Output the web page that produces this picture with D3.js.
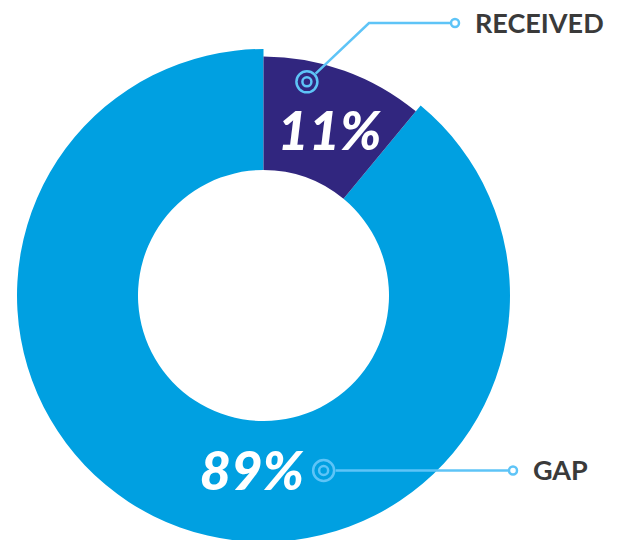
<!DOCTYPE html>
<html>
<head>
<meta charset="utf-8">
<script src="https://cdn.jsdelivr.net/npm/d3@7"></script>
<style>
  html, body { margin: 0; padding: 0; background: #fff; }
  svg { display: block; }
</style>
</head>
<body>
<div id="chart"></div>
<script>
// data
const categories = ["RECEIVED", "GAP"];
const values = [11, 89];
const colors = ["#31267f", "#00a0e1"];

const width = 619, height = 540;
const cx = 263.5, cy = 295.5;
const innerR = 125.5;
const outerR = { RECEIVED: 239, GAP: 246.5 };
const lineColor = "#5ec4f7";

const svg = d3.select("#chart").append("svg")
  .attr("width", width)
  .attr("height", height);

const g = svg.append("g").attr("transform", `translate(${cx},${cy})`);

const pie = d3.pie().sort(null).value(d => d.value);
const slices = pie(categories.map((c, i) => ({ name: c, value: values[i], color: colors[i] })));

const arc = d3.arc()
  .innerRadius(innerR)
  .outerRadius(d => outerR[d.data.name]);

// GAP first so the received slice sits on top
g.selectAll("path.slice")
  .data(slices.slice().reverse())
  .join("path")
  .attr("class", "slice")
  .attr("d", arc)
  .attr("fill", d => d.data.color);

// polar helper, angle in degrees clockwise from 12 o'clock
function polar(angle, r) {
  const a = angle / 180 * Math.PI;
  return [r * Math.sin(a), -r * Math.cos(a)];
}
const deg = a => a * 180 / Math.PI;

// label layout per slice: where the % text and the callout ring sit
const layout = {
  RECEIVED: { text: { t: 0.55, r: 178 }, ring: { t: 0.29, r: 218 }, elbow: [369 - cx, 23 - cy], end: [455 - cx, 23 - cy] },
  GAP: { text: { t: 0.45, r: 176 }, ring: { t: 0.379, r: 185 }, elbow: null, end: [513 - cx, 0] }
};

slices.forEach(d => {
  const L = layout[d.data.name];
  const a0 = deg(d.startAngle), a1 = deg(d.endAngle);
  const tp = polar(a0 + (a1 - a0) * L.text.t, L.text.r);
  const rp = polar(a0 + (a1 - a0) * L.ring.t, L.ring.r);
  if (d.data.name === "GAP") { tp[1] = rp[1]; L.end[1] = rp[1]; }

  // big percentage
  g.append("text")
    .attr("x", tp[0])
    .attr("y", tp[1] + 19.5)
    .attr("text-anchor", "middle")
    .attr("fill", "#fff")
    .attr("font-family", "Lato, 'Noto Sans', sans-serif")
    .attr("font-weight", 900)
    .attr("font-style", "italic")
    .attr("font-size", 54)
    .text(d.data.value + "%");

  // callout line
  const pts = [];
  if (L.elbow) {
    const dx = L.elbow[0] - rp[0], dy = L.elbow[1] - rp[1];
    const len = Math.hypot(dx, dy);
    pts.push([rp[0] + dx / len * 12, rp[1] + dy / len * 12], L.elbow);
  } else {
    pts.push([rp[0] + 12, rp[1]]);
  }
  pts.push([L.end[0] - 4.5, L.end[1]]);
  g.append("path")
    .attr("d", d3.line()(pts))
    .attr("fill", "none")
    .attr("stroke", lineColor)
    .attr("stroke-width", 2.5);

  // target ring
  g.append("circle").attr("cx", rp[0]).attr("cy", rp[1]).attr("r", 10.5)
    .attr("fill", "none").attr("stroke", lineColor).attr("stroke-width", 2.5);
  g.append("circle").attr("cx", rp[0]).attr("cy", rp[1]).attr("r", 4.5)
    .attr("fill", "none").attr("stroke", lineColor).attr("stroke-width", 2.5);

  // end dot
  g.append("circle").attr("cx", L.end[0]).attr("cy", L.end[1]).attr("r", 4)
    .attr("fill", "#fff").attr("stroke", lineColor).attr("stroke-width", 2.5);

  // category name
  g.append("text")
    .attr("x", L.end[0] + 20)
    .attr("y", L.end[1] + 10)
    .attr("fill", "#3a3a3a")
    .attr("font-family", "Lato, 'Noto Sans', sans-serif")
    .attr("font-weight", 700)
    .attr("font-size", 27)
    .text(d.data.name);
});
</script>
</body>
</html>
